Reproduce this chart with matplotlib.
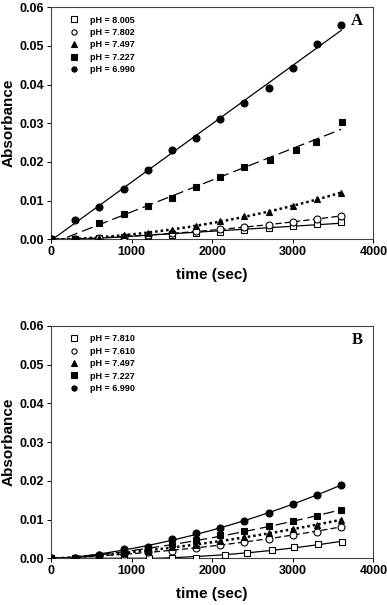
import numpy as np
import matplotlib
matplotlib.use("Agg")
import matplotlib.pyplot as plt

plt.rcParams['font.family'] = ['Liberation Sans', 'DejaVu Sans']

# sampling times (sec)
t = [0, 300, 600, 900, 1200, 1500, 1800, 2100, 2400, 2700, 3000, 3300, 3600]
t_a_7227 = [0, 300, 600, 900, 1200, 1500, 1800, 2100, 2400, 2720, 3040, 3290, 3605]
t_b_7810 = [0, 300, 600, 900, 1210, 1500, 1800, 2160, 2430, 2740, 3020, 3310, 3610]

# panel A absorbances
a_8005 = [0, 0.0, 0.0003, 0.0006, 0.0008, 0.0012, 0.0015, 0.0020, 0.0024, 0.0030, 0.0034, 0.0040, 0.0045]
a_7802 = [0, 0.0, 0.0003, 0.0007, 0.0010, 0.0015, 0.0021, 0.0026, 0.0032, 0.0037, 0.0045, 0.0053, 0.0060]
a_7497 = [0, 0.0, 0.0004, 0.0011, 0.0016, 0.0025, 0.0035, 0.0048, 0.0060, 0.0070, 0.0085, 0.0105, 0.0120]
a_7227 = [0, 0.0002, 0.0043, 0.0065, 0.0087, 0.0107, 0.0136, 0.0161, 0.0186, 0.0206, 0.0232, 0.0251, 0.0304]
a_6990 = [0, 0.0050, 0.0084, 0.0131, 0.0178, 0.0230, 0.0263, 0.0312, 0.0353, 0.0390, 0.0442, 0.0504, 0.0555]

# panel B absorbances
b_7810 = [0, 0.0, 0.0, 0.0, 0.0, 0.0001, 0.0002, 0.0008, 0.0013, 0.0022, 0.0030, 0.0036, 0.0042]
b_7610 = [0, 0.0002, 0.0008, 0.0010, 0.0016, 0.0020, 0.0026, 0.0034, 0.0043, 0.0051, 0.0060, 0.0069, 0.0082]
b_7497 = [0, 0.0002, 0.0008, 0.0013, 0.0020, 0.0028, 0.0035, 0.0045, 0.0055, 0.0065, 0.0076, 0.0085, 0.0100]
b_7227 = [0, 0.0002, 0.0002, 0.0015, 0.0025, 0.0036, 0.0047, 0.0059, 0.0070, 0.0084, 0.0096, 0.0108, 0.0125]
b_6990 = [0, 0.0, 0.0008, 0.0023, 0.0030, 0.0049, 0.0065, 0.0079, 0.0096, 0.0118, 0.0139, 0.0163, 0.0190]

labels_a = ["pH = 8.005", "pH = 7.802", "pH = 7.497", "pH = 7.227", "pH = 6.990"]
labels_b = ["pH = 7.810", "pH = 7.610", "pH = 7.497", "pH = 7.227", "pH = 6.990"]

markers = [('s', 'white'), ('o', 'white'), ('^', 'black'), ('s', 'black'), ('o', 'black')]
styles = ['-', (0, (5, 2.5)), (0, (1, 1.2)), (0, (9, 4)), '-']
widths = [0.9, 0.9, 1.8, 0.9, 0.9]


def draw_panel(ax, xs, ys, labels, degrees, letter):
    xfit = np.linspace(0, 3600, 200)
    handles = []
    for x, y, lab, deg, (m, fc), ls, lw in zip(xs, ys, labels, degrees, markers, styles, widths):
        coef = np.polyfit(x, y, deg)
        yfit = np.clip(np.polyval(coef, xfit), 0, None)
        ax.plot(xfit, yfit, color='black', linestyle=ls, linewidth=lw, zorder=2)
        h, = ax.plot(x, y, linestyle='none', marker=m, markersize=5.0,
                     markerfacecolor=fc, markeredgecolor='black', markeredgewidth=0.8,
                     label=lab, zorder=3)
        handles.append(h)
    ax.set_xlim(0, 4000)
    ax.set_ylim(0, 0.06)
    ax.set_xticks([0, 1000, 2000, 3000, 4000])
    ax.set_yticks([0, 0.01, 0.02, 0.03, 0.04, 0.05, 0.06])
    ax.yaxis.set_major_formatter(matplotlib.ticker.FormatStrFormatter('%.2f'))
    ax.tick_params(direction='out', length=3, width=0.7, labelsize=9, pad=2)
    for lab in ax.get_xticklabels() + ax.get_yticklabels():
        lab.set_fontweight('bold')
    for sp in ax.spines.values():
        sp.set_linewidth(0.8)
        sp.set_color('#444444')
    ax.set_xlabel("time (sec)", fontsize=11, fontweight='bold', labelpad=7)
    ax.set_ylabel("Absorbance", fontsize=11, fontweight='bold', labelpad=3)
    ax.legend(handles=handles, loc='upper left', bbox_to_anchor=(0.045, 0.98),
              frameon=False, prop={'weight': 'bold', 'size': 6.5}, markerscale=0.75,
              handlelength=1.0, handletextpad=1.3, labelspacing=0.38, borderaxespad=0)
    ax.text(0.95, 0.94, letter, transform=ax.transAxes, ha='center', va='center',
            fontsize=12, fontweight='bold', family='Liberation Serif')


fig = plt.figure(figsize=(3.87, 6.05), dpi=100)
ax_a = fig.add_axes([0.1318, 0.6045, 0.8332, 0.3835])
ax_b = fig.add_axes([0.1318, 0.0772, 0.8332, 0.3840])

draw_panel(ax_a, [t, t, t, t_a_7227, t], [a_8005, a_7802, a_7497, a_7227, a_6990],
           labels_a, [1, 2, 2, 1, 1], "A")
draw_panel(ax_b, [t_b_7810, t, t, t, t], [b_7810, b_7610, b_7497, b_7227, b_6990],
           labels_b, [3, 2, 2, 2, 2], "B")

fig.savefig("out.png", dpi=100)
